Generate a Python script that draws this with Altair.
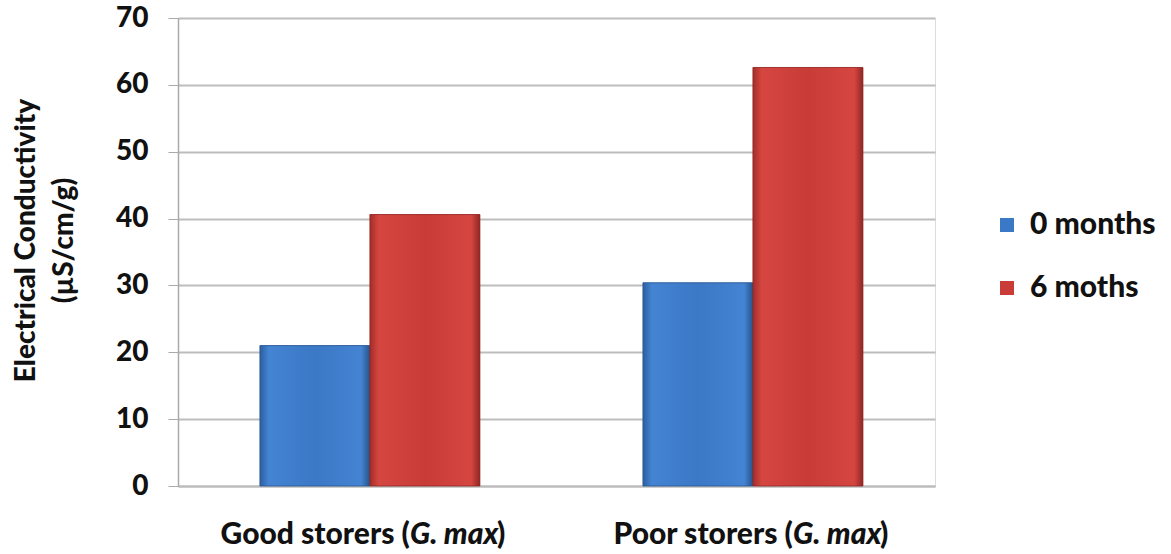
import altair as alt
import pandas as pd

group_names = ["Good storers", "Poor storers"]
species = "G. max"
groups = [f"{n} ({species})" for n in group_names]
series = ["0 months", "6 moths"]
values_0 = [21.0, 30.4]
values_6 = [40.6, 62.6]
y_ticks = [0, 10, 20, 30, 40, 50, 60, 70]

rows = []
for g, v0, v6 in zip(groups, values_0, values_6):
    rows.append({"group": g, "series": series[0], "value": v0})
    rows.append({"group": g, "series": series[1], "value": v6})
df = pd.DataFrame(rows)

labels_df = pd.DataFrame({
    "group": groups,
    "prefix": [n + " (" for n in group_names],
    "italic": [species] * len(groups),
    "suffix": [")"] * len(groups),
})

FONT = "Lato"
WEIGHT = 900
BLUE, RED = "#3b78c6", "#c83b37"

x_enc = alt.X("group:N", sort=groups,
              scale=alt.Scale(paddingInner=0.4256, paddingOuter=0.201, align=0.532),
              axis=alt.Axis(title=None, labels=False, ticks=False,
                            domainColor="#bbbbbb", domainWidth=2))
xo_enc = alt.XOffset("series:N", sort=series, scale=alt.Scale(paddingInner=0, paddingOuter=0))
y_enc = alt.Y("value:Q", scale=alt.Scale(domain=[0, 70], nice=False),
              axis=alt.Axis(values=y_ticks, title=["Electrical Conductivity", "(µS/cm/g)"],
                            titleFont=FONT, titleFontSize=28, titleFontWeight=WEIGHT,
                            titleColor="#111111", titleX=-166, titleY=222, titleLineHeight=38,
                            titleBaseline="top", titleAlign="center", titleAngle=270,
                            labelFont=FONT, labelFontSize=28, labelFontWeight=WEIGHT,
                            labelColor="#111111", labelPadding=20, tickSize=10,
                            tickColor="#aaaaaa", domainColor="#aaaaaa", domainWidth=1.5,
                            gridColor="#bdbdbd", gridWidth=2))

bars = alt.Chart(df).mark_bar().encode(
    x=x_enc, xOffset=xo_enc, y=y_enc,
    color=alt.Color("series:N", sort=series,
                    scale=alt.Scale(domain=series, range=[BLUE, RED]),
                    legend=alt.Legend(title=None, orient="none", legendX=814, legendY=192,
                                      padding=0, symbolType="square", symbolSize=196,
                                      labelFont=FONT, labelFontSize=30, labelFontWeight=WEIGHT,
                                      labelColor="#111111", rowPadding=33, labelOffset=8,
                                      symbolStrokeWidth=0)),
)


def grad(dark, light, mid, darker):
    return alt.Gradient(gradient="linear", x1=0, x2=1, y1=0, y2=0, stops=[
        alt.GradientStop(offset=0, color=dark),
        alt.GradientStop(offset=0.08, color=light),
        alt.GradientStop(offset=0.5, color=mid),
        alt.GradientStop(offset=0.92, color=light),
        alt.GradientStop(offset=1, color=darker),
    ])


blue_layer = alt.Chart(df).transform_filter(alt.datum.series == series[0]).mark_bar(
    color=grad("#2c5e9f", "#4484d2", BLUE, "#26528c"),
    stroke="#2a578f", strokeWidth=0.8,
).encode(x=x_enc, xOffset=xo_enc, y=y_enc)

red_layer = alt.Chart(df).transform_filter(alt.datum.series == series[1]).mark_bar(
    color=grad("#a22d29", "#d64641", RED, "#8f2623"),
    stroke="#8f2724", strokeWidth=0.8,
).encode(x=x_enc, xOffset=xo_enc, y=y_enc)

LBL_Y = 526
A = 40
W_IT = 87
txt_common = dict(font=FONT, fontSize=30, fontWeight=WEIGHT, color="#111111",
                  baseline="alphabetic")
t_prefix = alt.Chart(labels_df).mark_text(align="right", dx=A, **txt_common).encode(
    x=alt.X("group:N", sort=groups), y=alt.value(LBL_Y), text="prefix:N")
t_italic = alt.Chart(labels_df).mark_text(align="left", dx=A, fontStyle="italic",
                                          **txt_common).encode(
    x=alt.X("group:N", sort=groups), y=alt.value(LBL_Y), text="italic:N")
t_suffix = alt.Chart(labels_df).mark_text(align="left", dx=A + W_IT, **txt_common).encode(
    x=alt.X("group:N", sort=groups), y=alt.value(LBL_Y), text="suffix:N")

chart = alt.layer(bars, blue_layer, red_layer, t_prefix, t_italic, t_suffix).properties(
    width=757, height=468,
    autosize=alt.AutoSizeParams(type="none"),
    padding={"left": 178, "top": 18, "right": 236, "bottom": 68},
).configure_view(stroke=None).configure(background="white")

chart.save("out.html", embed_options={"renderer": "svg", "actions": False})
